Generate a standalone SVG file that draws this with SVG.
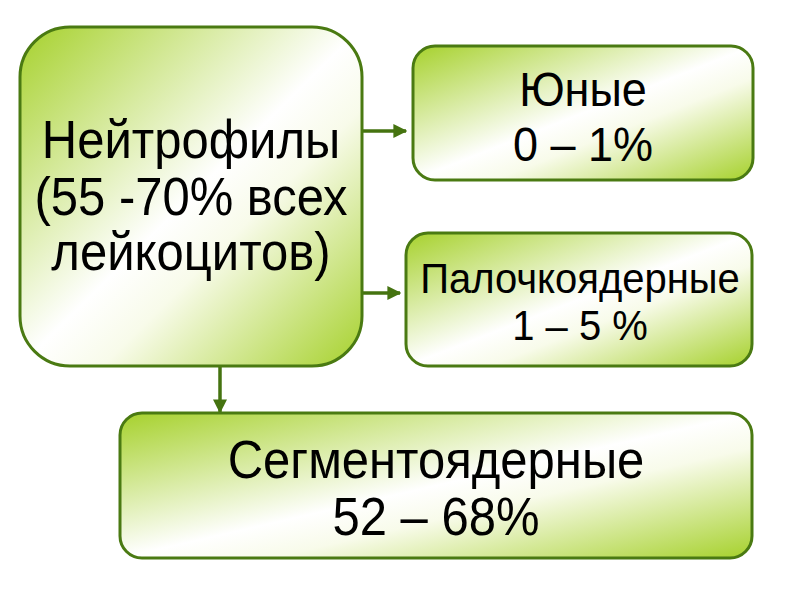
<svg xmlns="http://www.w3.org/2000/svg" width="800" height="600" viewBox="0 0 800 600">
<defs>
<linearGradient id="g" x1="0" y1="0" x2="1" y2="1">
<stop offset="0" stop-color="#a6d12c"/>
<stop offset="0.5" stop-color="#ffffff"/>
<stop offset="0.62" stop-color="#f8fbea"/>
<stop offset="1" stop-color="#a6d12c"/>
</linearGradient>
<marker id="ah" viewBox="0 0 10 10" refX="9" refY="5" markerWidth="4" markerHeight="4" orient="auto" markerUnits="strokeWidth">
<path d="M0,0 L10,5 L0,10 Z" fill="#457310"/>
</marker>
<style>
.box{fill:url(#g);stroke:#4a7a12;stroke-width:3}
.t{font-family:"Liberation Sans",Arial,sans-serif;fill:#000;text-anchor:middle}
.c{stroke:#457310;stroke-width:3.5;fill:none;marker-end:url(#ah)}
</style>
</defs>
<rect width="800" height="600" fill="#fff"/>
<g id="connectors">
<line class="c" x1="362" y1="131" x2="406" y2="131"/>
<line class="c" x1="362" y1="293" x2="400" y2="293"/>
<line class="c" x1="220" y1="366" x2="220" y2="412"/>
</g>
<g id="neutrophils">
<rect class="box" x="20" y="27" width="342" height="339" rx="50"/>
<text class="t" font-size="49" transform="translate(191,158) scale(1,1.08)">Нейтрофилы</text>
<text class="t" font-size="49" transform="translate(191,215) scale(1,1.08)">(55 -70% всех</text>
<text class="t" font-size="49" transform="translate(191,270) scale(1,1.08)">лейкоцитов)</text>
</g>
<g id="young">
<rect class="box" x="413" y="46" width="340" height="134" rx="22"/>
<text class="t" font-size="45" transform="translate(583,106) scale(1,1.08)">Юные</text>
<text class="t" font-size="45" transform="translate(583,161) scale(1,1.08)">0 – 1%</text>
</g>
<g id="band">
<rect class="box" x="406" y="233" width="346" height="133" rx="22"/>
<text class="t" font-size="40" transform="translate(580,293) scale(1,1.08)">Палочкоядерные</text>
<text class="t" font-size="40" transform="translate(580,340) scale(1,1.08)">1 – 5 %</text>
</g>
<g id="segmented">
<rect class="box" x="120" y="413" width="632" height="145" rx="22"/>
<text class="t" font-size="49" transform="translate(436,478) scale(1,1.08)">Сегментоядерные</text>
<text class="t" font-size="49" transform="translate(436,535) scale(1,1.08)">52 – 68%</text>
</g>
</svg>
